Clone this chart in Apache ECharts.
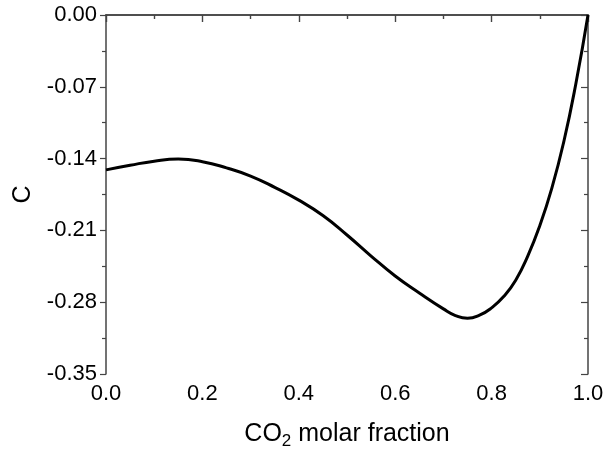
<!DOCTYPE html>
<html>
<head>
<meta charset="utf-8">
<script src="https://cdn.jsdelivr.net/npm/echarts@6/dist/echarts.min.js"></script>
<style>
  html, body { margin: 0; padding: 0; background: #fff; }
  #chart { width: 608px; height: 456px; }
</style>
</head>
<body>
<div id="chart"></div>
<script>
// CO2 molar fraction (x) and the coefficient C (y)
var fraction = [0.00, 0.05, 0.10, 0.15, 0.20, 0.25, 0.30, 0.35, 0.40, 0.45, 0.50,
                0.55, 0.60, 0.65, 0.70, 0.725, 0.75, 0.775, 0.80, 0.825, 0.85,
                0.875, 0.90, 0.925, 0.95, 0.975, 1.00];
var coefC = [-0.151, -0.1465, -0.1425, -0.1405, -0.1430, -0.1490, -0.1570, -0.1680, -0.1805, -0.1955, -0.2145,
             -0.2350, -0.2545, -0.2710, -0.2865, -0.2930, -0.2957, -0.2927, -0.2855, -0.2745, -0.2585,
             -0.2350, -0.2054, -0.1688, -0.1231, -0.0665, 0.000];
var xTicks = ['0.0', '0.2', '0.4', '0.6', '0.8', '1.0'];
var yTicks = ['-0.35', '-0.28', '-0.21', '-0.14', '-0.07', '0.00'];

var points = fraction.map(function (x, i) { return [x, coefC[i]]; });

var font = '"Liberation Sans", Arial, sans-serif';
var axisColor = '#444';

function xLabel(v) { return xTicks[Math.round(v / 0.2)]; }
function yLabel(v) { return yTicks[Math.round((v + 0.35) / 0.07)]; }

var chart = echarts.init(document.getElementById('chart'));
chart.setOption({
  animation: false,
  backgroundColor: '#fff',
  grid: { left: 106, right: 20, top: 15, bottom: 82 },
  xAxis: [{
    type: 'value', min: 0, max: 1, interval: 0.2, position: 'bottom',
    name: '{a|CO}{s|2}{a| molar fraction}',
    nameLocation: 'middle', nameGap: 45,
    nameTextStyle: {
      rich: {
        a: { fontFamily: font, fontSize: 25, color: '#000' },
        s: { fontFamily: font, fontSize: 17, color: '#000', padding: [14, 0, 0, 0] }
      }
    },
    axisLine: { show: true, lineStyle: { color: axisColor, width: 1.5 } },
    axisTick: { show: true, inside: false, length: 7, lineStyle: { color: axisColor, width: 1.2 } },
    minorTick: { show: true, splitNumber: 2, length: 4, lineStyle: { color: axisColor, width: 1.2 } },
    axisLabel: { margin: 9, fontFamily: font, fontSize: 22, color: '#000', formatter: xLabel },
    splitLine: { show: false }
  }, {
    type: 'value', min: 0, max: 1, interval: 0.2, position: 'top',
    axisLine: { show: true, lineStyle: { color: axisColor, width: 1.5 } },
    axisTick: { show: true, inside: true, length: 7, lineStyle: { color: axisColor, width: 1.2 } },
    minorTick: { show: true, splitNumber: 2, length: 4, lineStyle: { color: axisColor, width: 1.2 } },
    axisLabel: { show: false },
    splitLine: { show: false }
  }],
  yAxis: [{
    type: 'value', min: -0.35, max: 0, interval: 0.07, position: 'left',
    name: 'C', nameLocation: 'middle', nameGap: 68, nameRotate: 90,
    nameTextStyle: { fontFamily: font, fontSize: 25, color: '#000' },
    axisLine: { show: true, onZero: false, lineStyle: { color: axisColor, width: 1.5 } },
    axisTick: { show: true, inside: false, length: 6, lineStyle: { color: axisColor, width: 1.2 } },
    minorTick: { show: true, splitNumber: 2, length: 4, lineStyle: { color: axisColor, width: 1.2 } },
    axisLabel: { margin: 9, fontFamily: font, fontSize: 22, color: '#000', formatter: yLabel },
    splitLine: { show: false }
  }, {
    type: 'value', min: -0.35, max: 0, interval: 0.07, position: 'right',
    axisLine: { show: true, onZero: false, lineStyle: { color: axisColor, width: 1.5 } },
    axisTick: { show: true, inside: true, length: 7, lineStyle: { color: axisColor, width: 1.2 } },
    minorTick: { show: true, splitNumber: 2, length: 4, lineStyle: { color: axisColor, width: 1.2 } },
    axisLabel: { show: false },
    splitLine: { show: false }
  }],
  series: [{
    type: 'line',
    data: points,
    smooth: true,
    showSymbol: false,
    symbol: 'none',
    lineStyle: { color: '#000', width: 3 }
  }]
});
</script>
</body>
</html>
